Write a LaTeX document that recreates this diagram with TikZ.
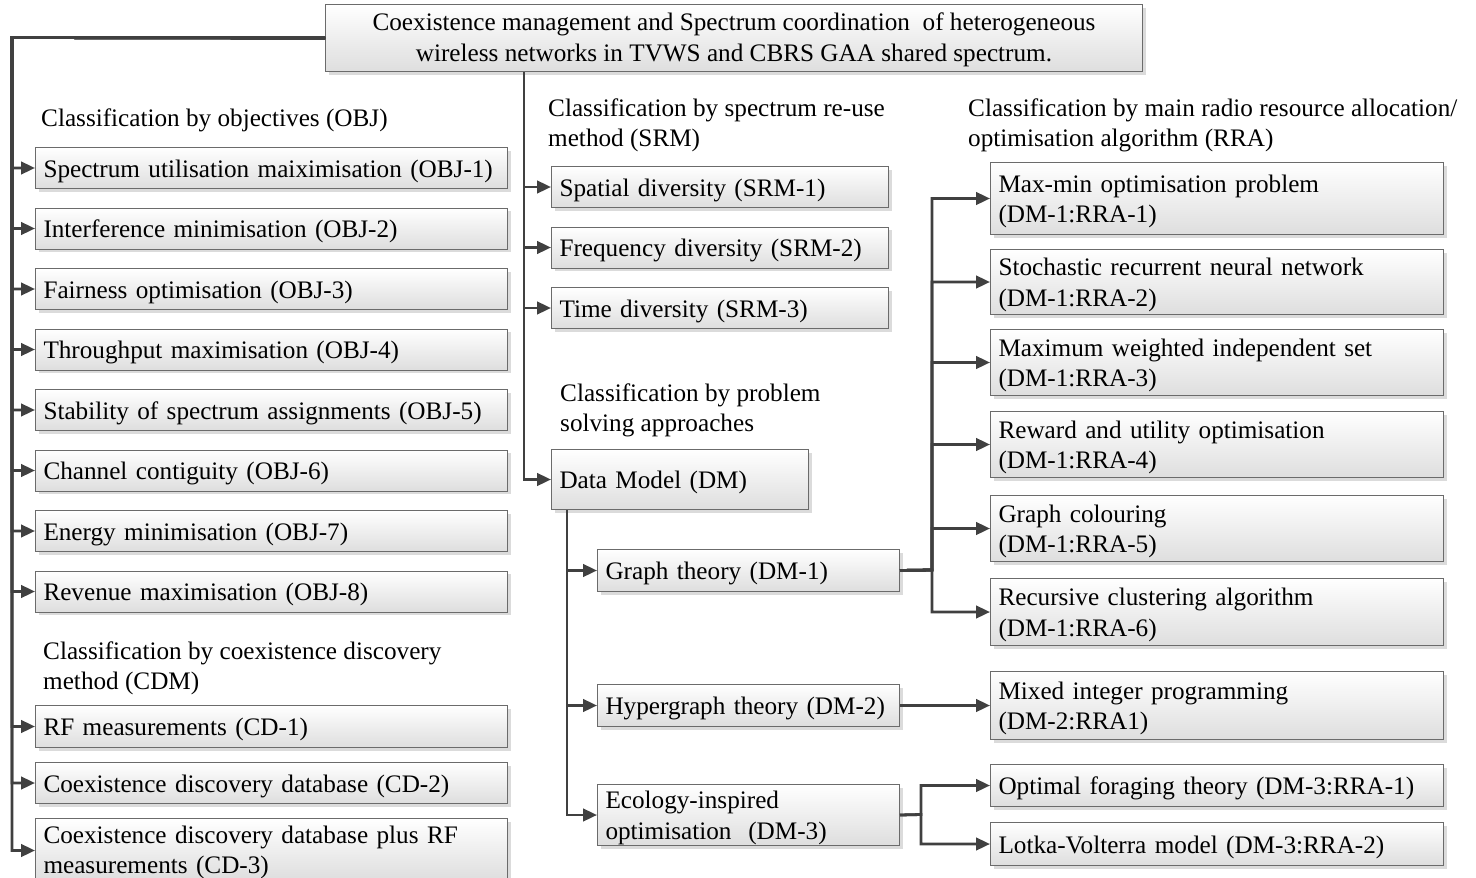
\documentclass[tikz,border=0pt]{standalone}
\usepackage{fontspec}
\setmainfont{Liberation Serif}
\usetikzlibrary{arrows.meta,shadows}
% box: name, left, top, right, bottom, text
\newcommand\bx[6]{%
  \pgfmathsetmacro\bxw{#4-#2}%
  \pgfmathsetmacro\bxh{#5-#3}%
  \pgfmathsetmacro\bxt{#4-#2-16}%
  \node[box, minimum width=\bxw pt, minimum height=\bxh pt, text width=\bxt pt] (#1) at (#2,#3)
    {\rule[-6pt]{0pt}{30pt}#6\rule[-6pt]{0pt}{1pt}};}
\begin{document}
\begin{tikzpicture}[x=1pt,y=-1pt,
  txt/.style={font=\fontsize{25.2}{30.5}\selectfont},
  box/.style={txt, draw=black!58, line width=1pt, top color=white, bottom color=black!13,
    drop shadow={shadow xshift=3pt,shadow yshift=-3pt,fill=black!14,opacity=1},
    anchor=north west, inner xsep=8pt, inner ysep=0pt, align=left},
  lbl/.style={txt, anchor=west, inner sep=0pt, align=left},
  conn/.style={draw=black!75, line width=2.8pt},
  arr/.style={conn, -{Triangle[length=14pt,width=12.5pt]}}]
\useasboundingbox (0,0) rectangle (1476,878);

% root
\bx{top}{325}{4}{1142}{71}{}
\node[txt, align=center] at ([yshift=-2pt]top.center) {Coexistence management and Spectrum coordination\ \ of heterogeneous\\wireless networks in TVWS and CBRS GAA shared spectrum.};

% objectives
\node[lbl] (lobj) at (41,120) {Classification by objectives (OBJ)};
\bx{o1}{35}{147}{507}{188}{Spectrum utilisation maiximisation (OBJ-1)}
\bx{o2}{35}{207.5}{507}{248.5}{Interference minimisation (OBJ-2)}
\bx{o3}{35}{268}{507}{309}{Fairness optimisation (OBJ-3)}
\bx{o4}{35}{328.5}{507}{369.5}{Throughput maximisation (OBJ-4)}
\bx{o5}{35}{389}{507}{430}{Stability of spectrum assignments (OBJ-5)}
\bx{o6}{35}{449.5}{507}{490.5}{Channel contiguity (OBJ-6)}
\bx{o7}{35}{510}{507}{551}{Energy minimisation (OBJ-7)}
\bx{o8}{35}{570.5}{507}{611.5}{Revenue maximisation (OBJ-8)}

% coexistence discovery
\node[lbl] (lcd) at (43,668.5) {Classification by coexistence discovery\\method (CDM)};
\bx{c1}{35}{705}{507}{747}{RF measurements (CD-1)}
\bx{c2}{35}{762}{507}{803}{Coexistence discovery database (CD-2)}
\bx{c3}{35}{818}{507}{880}{Coexistence discovery database plus RF\\measurements (CD-3)}

% spectrum re-use
\node[lbl] (lsrm) at (548,125.5) {Classification by spectrum re-use\\method (SRM)};
\bx{s1}{551}{166}{888}{207}{Spatial diversity (SRM-1)}
\bx{s2}{551}{226.5}{888}{267.5}{Frequency diversity (SRM-2)}
\bx{s3}{551}{287}{888}{328}{Time diversity (SRM-3)}

% problem solving approaches
\node[lbl] (lpsa) at (560,410.5) {Classification by problem\\solving approaches};
\bx{dm}{551}{449}{808}{509}{Data Model (DM)}
\bx{g1}{597}{549}{899}{591}{Graph theory (DM-1)}
\bx{g2}{597}{684}{899}{726}{Hypergraph theory (DM-2)}
\bx{g3}{597}{784}{899}{845}{Ecology-inspired\\optimisation\ \ (DM-3)}

% resource allocation algorithms
\node[lbl] (lrra) at (968,125.5) {Classification by main radio resource allocation/\\optimisation algorithm (RRA)};
\bx{r1}{990}{162}{1443}{234}{Max-min optimisation problem\\(DM-1:RRA-1)}
\bx{r2}{990}{249}{1443}{314}{Stochastic recurrent neural network\\(DM-1:RRA-2)}
\bx{r3}{990}{329}{1443}{395}{Maximum weighted independent set\\(DM-1:RRA-3)}
\bx{r4}{990}{411}{1443}{477}{Reward and utility optimisation\\(DM-1:RRA-4)}
\bx{r5}{990}{495}{1443}{561}{Graph colouring\\(DM-1:RRA-5)}
\bx{r6}{990}{578}{1443}{645}{Recursive clustering algorithm\\(DM-1:RRA-6)}
\bx{m1}{990}{671}{1443}{739}{Mixed integer programming\\(DM-2:RRA1)}
\bx{e1}{990}{764}{1443}{806}{Optimal foraging theory (DM-3:RRA-1)}
\bx{e2}{990}{822}{1443}{865}{Lotka-Volterra model (DM-3:RRA-2)}

% junction points of the trees
\coordinate (jl) at (12,37.5);
\coordinate (jm) at (524,100);
\coordinate (jd) at (567,600);
\coordinate (jg) at (932,570);
\coordinate (je) at (921,814.5);

% left tree
\foreach \n in {o1,o2,o3,o4,o5,o6,o7,o8,c1,c2}
  \draw[arr] (top.west) -- (jl) |- (\n.west);
\draw[arr] (top.west) -- (jl) |- ([yshift=-1pt]c3.west);

% middle tree
\foreach \n in {s1,s2,s3,dm}
  \draw[arr] (top.south -| jm) |- (\n.west);

% data model tree
\foreach \n in {g1,g2,g3}
  \draw[arr] (dm.south -| jd) |- (\n.west);

% algorithm branches
\foreach \n in {r1,r2,r3,r4,r5,r6}
  \draw[arr] (g1.east) -- (jg) |- (\n.west);
\draw[arr] (g2.east) -- (g2.east -| m1.west);
\foreach \n in {e1,e2}
  \draw[arr] (g3.east) -- (je) |- (\n.west);
\end{tikzpicture}
\end{document}
